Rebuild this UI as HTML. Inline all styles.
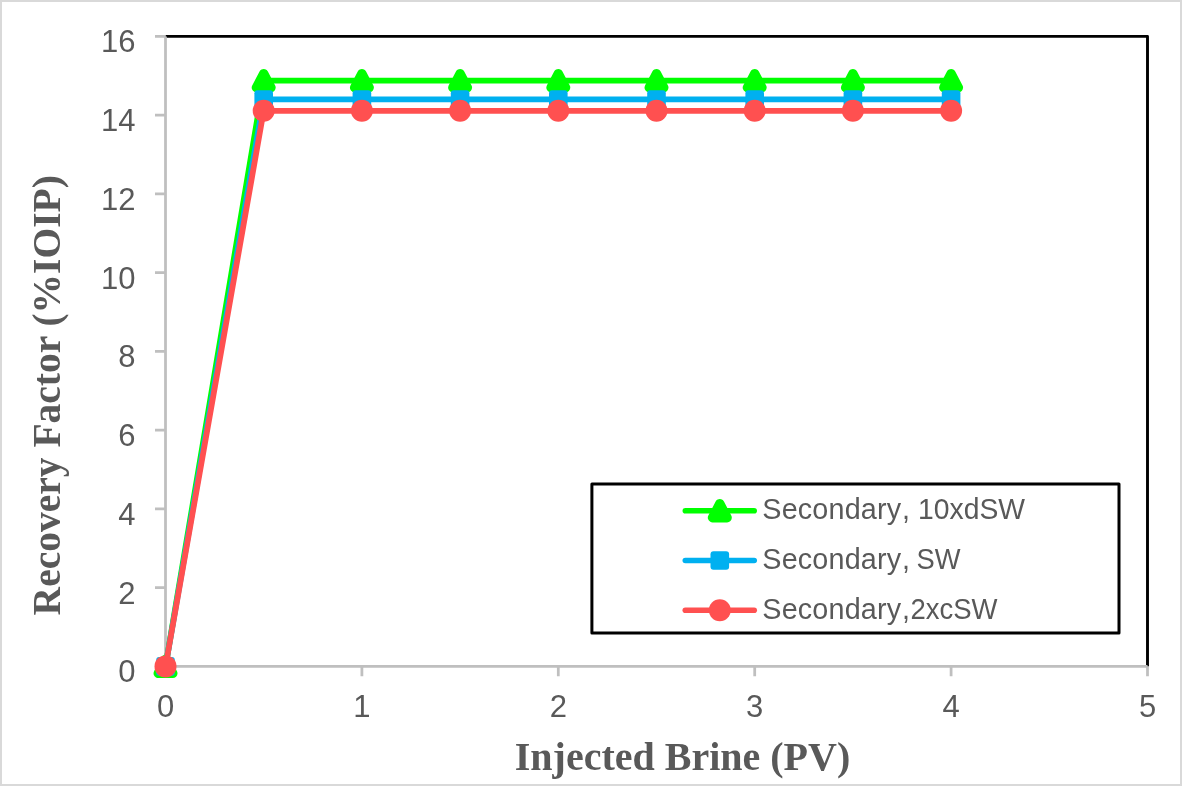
<!DOCTYPE html>
<html><head><meta charset="utf-8"><style>
html,body{margin:0;padding:0;background:#fff;}
body{width:1182px;height:805px;overflow:hidden;}
svg{display:block;will-change:transform;}
text{font-family:"Liberation Sans",sans-serif;fill:#595959;}
.t{font-family:"Liberation Serif",serif;font-weight:bold;}
</style></head><body>
<svg width="1182" height="805" viewBox="0 0 1182 805">
<rect x="1" y="1" width="1180" height="784" fill="#fff" stroke="#d9d9d9" stroke-width="2"/>

<path d="M165.5 36.39999999999998H1147.5V666.4" fill="none" stroke="#000" stroke-width="2.9" stroke-linejoin="round"/>
<path d="M165.5 36.39999999999998V666.4H1147.5" fill="none" stroke="#bfbfbf" stroke-width="2.75"/>
<path d="M155 666.40H165.5M155 587.65H165.5M155 508.90H165.5M155 430.15H165.5M155 351.40H165.5M155 272.65H165.5M155 193.90H165.5M155 115.15H165.5M155 36.40H165.5M165.50 666.4V676.3M361.90 666.4V676.3M558.30 666.4V676.3M754.70 666.4V676.3M951.10 666.4V676.3M1147.50 666.4V676.3" stroke="#bfbfbf" stroke-width="2.75"/>
<text x="135.5" y="682.40" font-size="31" text-anchor="end">0</text>
<text x="135.5" y="603.65" font-size="31" text-anchor="end">2</text>
<text x="135.5" y="524.90" font-size="31" text-anchor="end">4</text>
<text x="135.5" y="446.15" font-size="31" text-anchor="end">6</text>
<text x="135.5" y="367.40" font-size="31" text-anchor="end">8</text>
<text x="135.5" y="288.65" font-size="31" text-anchor="end">10</text>
<text x="135.5" y="209.90" font-size="31" text-anchor="end">12</text>
<text x="135.5" y="131.15" font-size="31" text-anchor="end">14</text>
<text x="135.5" y="52.40" font-size="31" text-anchor="end">16</text>
<text x="165.50" y="717.2" font-size="31" text-anchor="middle">0</text>
<text x="361.90" y="717.2" font-size="31" text-anchor="middle">1</text>
<text x="558.30" y="717.2" font-size="31" text-anchor="middle">2</text>
<text x="754.70" y="717.2" font-size="31" text-anchor="middle">3</text>
<text x="951.10" y="717.2" font-size="31" text-anchor="middle">4</text>
<text x="1147.50" y="717.2" font-size="31" text-anchor="middle">5</text>
<path d="M165.50 666.40 L263.70 80.62 L361.90 80.62 L460.10 80.62 L558.30 80.62 L656.50 80.62 L754.70 80.62 L852.90 80.62 L951.10 80.62" fill="none" stroke="#00ff00" stroke-width="5.75" stroke-linejoin="round" stroke-linecap="round"/>
<path d="M165.50 659.40L158.20 673.40H172.80Z" fill="#00ff00" stroke="#00ff00" stroke-width="9.4" stroke-linejoin="round"/>
<path d="M263.70 73.62L256.40 87.62H271.00Z" fill="#00ff00" stroke="#00ff00" stroke-width="9.4" stroke-linejoin="round"/>
<path d="M361.90 73.62L354.60 87.62H369.20Z" fill="#00ff00" stroke="#00ff00" stroke-width="9.4" stroke-linejoin="round"/>
<path d="M460.10 73.62L452.80 87.62H467.40Z" fill="#00ff00" stroke="#00ff00" stroke-width="9.4" stroke-linejoin="round"/>
<path d="M558.30 73.62L551.00 87.62H565.60Z" fill="#00ff00" stroke="#00ff00" stroke-width="9.4" stroke-linejoin="round"/>
<path d="M656.50 73.62L649.20 87.62H663.80Z" fill="#00ff00" stroke="#00ff00" stroke-width="9.4" stroke-linejoin="round"/>
<path d="M754.70 73.62L747.40 87.62H762.00Z" fill="#00ff00" stroke="#00ff00" stroke-width="9.4" stroke-linejoin="round"/>
<path d="M852.90 73.62L845.60 87.62H860.20Z" fill="#00ff00" stroke="#00ff00" stroke-width="9.4" stroke-linejoin="round"/>
<path d="M951.10 73.62L943.80 87.62H958.40Z" fill="#00ff00" stroke="#00ff00" stroke-width="9.4" stroke-linejoin="round"/>
<path d="M165.50 666.40 L263.70 99.48 L361.90 99.48 L460.10 99.48 L558.30 99.48 L656.50 99.48 L754.70 99.48 L852.90 99.48 L951.10 99.48" fill="none" stroke="#00b0f0" stroke-width="5.75" stroke-linejoin="round" stroke-linecap="round"/>
<rect x="156.20" y="657.10" width="18.6" height="18.6" rx="3" fill="#00b0f0"/>
<rect x="254.40" y="90.18" width="18.6" height="18.6" rx="3" fill="#00b0f0"/>
<rect x="352.60" y="90.18" width="18.6" height="18.6" rx="3" fill="#00b0f0"/>
<rect x="450.80" y="90.18" width="18.6" height="18.6" rx="3" fill="#00b0f0"/>
<rect x="549.00" y="90.18" width="18.6" height="18.6" rx="3" fill="#00b0f0"/>
<rect x="647.20" y="90.18" width="18.6" height="18.6" rx="3" fill="#00b0f0"/>
<rect x="745.40" y="90.18" width="18.6" height="18.6" rx="3" fill="#00b0f0"/>
<rect x="843.60" y="90.18" width="18.6" height="18.6" rx="3" fill="#00b0f0"/>
<rect x="941.80" y="90.18" width="18.6" height="18.6" rx="3" fill="#00b0f0"/>
<path d="M165.50 666.40 L263.70 110.82 L361.90 110.82 L460.10 110.82 L558.30 110.82 L656.50 110.82 L754.70 110.82 L852.90 110.82 L951.10 110.82" fill="none" stroke="#ff5050" stroke-width="5.75" stroke-linejoin="round" stroke-linecap="round"/>
<circle cx="165.50" cy="666.40" r="11" fill="#ff5050"/>
<circle cx="263.70" cy="110.82" r="11" fill="#ff5050"/>
<circle cx="361.90" cy="110.82" r="11" fill="#ff5050"/>
<circle cx="460.10" cy="110.82" r="11" fill="#ff5050"/>
<circle cx="558.30" cy="110.82" r="11" fill="#ff5050"/>
<circle cx="656.50" cy="110.82" r="11" fill="#ff5050"/>
<circle cx="754.70" cy="110.82" r="11" fill="#ff5050"/>
<circle cx="852.90" cy="110.82" r="11" fill="#ff5050"/>
<circle cx="951.10" cy="110.82" r="11" fill="#ff5050"/>
<rect x="591.9" y="483.9" width="527.1" height="149.0" fill="#fff" stroke="#000" stroke-width="3" stroke-linejoin="round"/>
<path d="M685.3 510.7H754.2" stroke="#00ff00" stroke-width="5.6" stroke-linecap="round"/>
<path d="M719.80 503.70L712.50 517.70H727.10Z" fill="#00ff00" stroke="#00ff00" stroke-width="9.4" stroke-linejoin="round"/>
<text transform="translate(762.3 519.30) scale(0.958 1)" font-size="30" letter-spacing="0.2">Secondary<tspan dx="0.6">,</tspan></text>
<text x="918.0" y="519.30" font-size="30" textLength="107" lengthAdjust="spacingAndGlyphs">10xdSW</text>
<path d="M685.3 560.5H754.2" stroke="#00b0f0" stroke-width="5.6" stroke-linecap="round"/>
<rect x="710.50" y="551.20" width="18.6" height="18.6" rx="3" fill="#00b0f0"/>
<text transform="translate(762.3 569.10) scale(0.958 1)" font-size="30" letter-spacing="0.2">Secondary<tspan dx="0.6">,</tspan></text>
<text x="916.5" y="569.10" font-size="30" textLength="44" lengthAdjust="spacingAndGlyphs">SW</text>
<path d="M685.3 610.2H754.2" stroke="#ff5050" stroke-width="5.6" stroke-linecap="round"/>
<circle cx="719.80" cy="610.20" r="11" fill="#ff5050"/>
<text transform="translate(762.3 618.80) scale(0.958 1)" font-size="30" letter-spacing="0.2">Secondary<tspan dx="0.6">,</tspan></text>
<text x="910.5" y="618.80" font-size="30" textLength="87" lengthAdjust="spacingAndGlyphs">2xcSW</text>
<text class="t" x="682.5" y="769.6" font-size="40" text-anchor="middle">Injected Brine (PV)</text>
<text class="t" transform="translate(60.2 395.3) rotate(-90)" x="0" y="0" font-size="39.5" text-anchor="middle">Recovery Factor (%IOIP)</text>
</svg></body></html>
